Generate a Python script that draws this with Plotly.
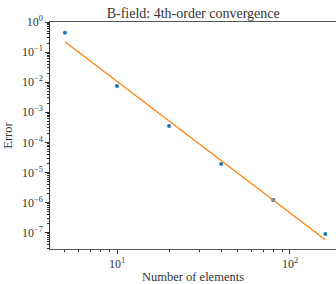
import plotly.graph_objects as go

elements = [5, 10, 20, 40, 80, 160]
error = [0.44, 0.0075, 3.5e-4, 1.9e-5, 1.2e-6, 9.0e-8]
fit_error = [0.22, 0.01076, 5.18e-4, 2.49e-5, 1.2e-6, 5.75e-8]

x_ticks = [10, 100]
x_ticklabels = ["10<sup>1</sup>", "10<sup>2</sup>"]
y_ticks = [1, 1e-1, 1e-2, 1e-3, 1e-4, 1e-5, 1e-6, 1e-7]
y_ticklabels = ["10<sup>0</sup>", "10<sup>−1</sup>", "10<sup>−2</sup>", "10<sup>−3</sup>",
                "10<sup>−4</sup>", "10<sup>−5</sup>", "10<sup>−6</sup>", "10<sup>−7</sup>"]

font = "Liberation Serif"

fig = go.Figure()
fig.add_trace(go.Scatter(x=elements, y=error, mode="markers",
                         marker=dict(color="#1f77b4", size=4), showlegend=False))
fig.add_trace(go.Scatter(x=elements, y=fit_error, mode="lines",
                         line=dict(color="#ff7f0e", width=1.2), showlegend=False))

fig.update_layout(
    width=336, height=284,
    margin=dict(l=50, r=0, t=22, b=31),
    plot_bgcolor="white", paper_bgcolor="white",
    font=dict(family=font, size=11, color="#333"),
    title=dict(text="B-field: 4th-order convergence", x=0.575, xanchor="center",
               y=0.955, yanchor="middle", font=dict(family=font, size=14, color="#333")),
    xaxis=dict(type="log", range=[0.6127, 2.266], showgrid=False, zeroline=False,
               showline=True, linecolor="#555", linewidth=1, mirror=True,
               tickmode="array", tickvals=x_ticks, ticktext=x_ticklabels,
               ticks="outside", ticklen=3.5, tickcolor="#333",
               minor=dict(ticks="outside", ticklen=2, tickcolor="#333", showgrid=False,
                          tickvals=[5, 6, 7, 8, 9, 20, 30, 40, 50, 60, 70, 80, 90]),
               title=dict(text="Number of elements", standoff=4,
                          font=dict(family=font, size=12.5, color="#333")),
               tickfont=dict(family=font, size=12, color="#333")),
    yaxis=dict(type="log", range=[-7.546, 0], showgrid=False, zeroline=False,
               showline=True, linecolor="#333", linewidth=1.2, mirror=False,
               tickmode="array", tickvals=y_ticks, ticktext=y_ticklabels,
               ticks="outside", ticklen=3.5, tickcolor="#333",
               minor=dict(ticks="outside", ticklen=2, tickcolor="#333", showgrid=False,
                          dtick="D1"),
               title=dict(text="Error", standoff=6,
                          font=dict(family=font, size=12.5, color="#333")),
               tickfont=dict(family=font, size=12, color="#333")),
)

fig.write_html("out.html", config={"displayModeBar": False},
               post_script="document.body.style.margin='0';document.body.style.overflow='hidden';")
